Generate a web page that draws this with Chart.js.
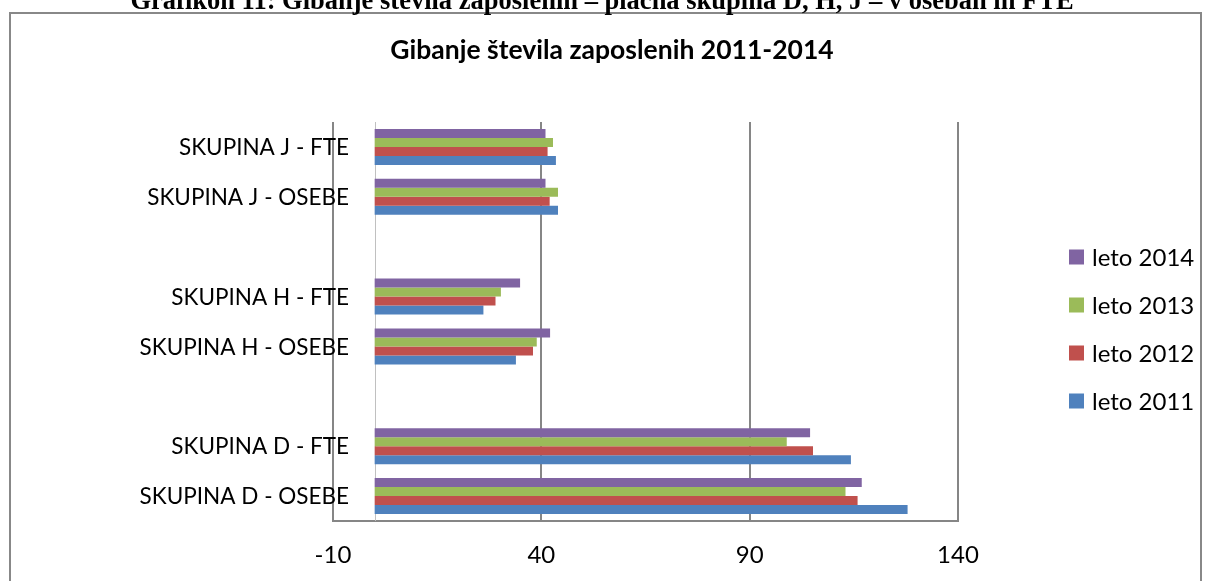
<!DOCTYPE html>
<html>
<head>
<meta charset="utf-8">
<script src="https://cdn.jsdelivr.net/npm/chart.js@4/dist/chart.umd.min.js"></script>
<style>
    body { margin: 0; background: #fff; }
    #wrap { width: 1208px; height: 581px; position: relative; }
</style>
</head>
<body>
<div id="wrap"><canvas id="zaposleniChart"></canvas></div>
<script>
// categories, top to bottom as drawn ('' = empty spacer rows)
const categories = ['SKUPINA J - FTE', 'SKUPINA J - OSEBE', '', 'SKUPINA H - FTE', 'SKUPINA H - OSEBE', '', 'SKUPINA D - FTE', 'SKUPINA D - OSEBE'];
const leto2014 = [41, 41, null, 34.9, 42.1, null, 104.5, 116.9];
const leto2013 = [42.8, 44, null, 30.3, 38.9, null, 98.9, 113];
const leto2012 = [41.5, 42, null, 29, 38, null, 105.2, 115.9];
const leto2011 = [43.5, 44, null, 26.1, 33.9, null, 114.3, 127.9];
const xTicks = [-10, 40, 90, 140];
const seriesNames = ['leto 2014', 'leto 2013', 'leto 2012', 'leto 2011'];
const seriesColors = ['#8064A2', '#9BBB59', '#C0504D', '#4F81BD'];

const captionText = 'Grafikon 11: Gibanje števila zaposlenih – plačna skupina D, H, J – v osebah in FTE';
const titleText = 'Gibanje števila zaposlenih 2011-2014';
const uiFont = 'Lato, "Open Sans", sans-serif';

const decorPlugin = {
    id: 'decor',
    beforeDatasetsDraw(chart) {
        const ctx = chart.ctx;
        const xs = chart.scales.x;
        const area = chart.chartArea;
        const x0 = Math.round(xs.getPixelForValue(0)) + 0.5;
        ctx.save();
        ctx.strokeStyle = '#c0c0c0';
        ctx.lineWidth = 1;
        ctx.beginPath();
        ctx.moveTo(x0, area.top);
        ctx.lineTo(x0, area.bottom);
        ctx.stroke();
        ctx.restore();
    },
    afterDraw(chart) {
        const ctx = chart.ctx;
        const ys = chart.scales.y;
        ctx.save();
        // category labels, placed next to the zero line like the original
        ctx.fillStyle = '#000';
        ctx.font = '22.5px ' + uiFont;
        ctx.textAlign = 'right';
        ctx.textBaseline = 'middle';
        categories.forEach((name, i) => {
            if (name) ctx.fillText(name, 349, ys.getPixelForValue(i) + 1);
        });
        // outer frame
        ctx.strokeStyle = '#888888';
        ctx.lineWidth = 2;
        ctx.strokeRect(10, 13, 1191, 700);
        // caption above the frame (cut off by the page edge)
        ctx.font = 'bold 26.5px "Liberation Serif", serif';
        ctx.textAlign = 'center';
        ctx.textBaseline = 'alphabetic';
        ctx.fillText(captionText, 602, 9);
        // chart title
        ctx.font = 'bold 26.5px ' + uiFont;
        ctx.textBaseline = 'middle';
        ctx.fillText(titleText, 612, 50);
        // legend
        ctx.font = '24px ' + uiFont;
        ctx.textAlign = 'left';
        const rows = [257, 305, 353, 401];
        seriesNames.forEach((name, i) => {
            ctx.fillStyle = seriesColors[i];
            ctx.fillRect(1069, rows[i] - 7.5, 15, 15);
            ctx.fillStyle = '#000';
            ctx.fillText(name, 1092, rows[i] + 1);
        });
        ctx.restore();
    }
};

const ctx = document.getElementById('zaposleniChart');
new Chart(ctx, {
    type: 'bar',
    data: {
        labels: categories,
        datasets: [
            { label: seriesNames[0], data: leto2014, backgroundColor: seriesColors[0] },
            { label: seriesNames[1], data: leto2013, backgroundColor: seriesColors[1] },
            { label: seriesNames[2], data: leto2012, backgroundColor: seriesColors[2] },
            { label: seriesNames[3], data: leto2011, backgroundColor: seriesColors[3] }
        ]
    },
    options: {
        indexAxis: 'y',
        responsive: true,
        maintainAspectRatio: false,
        animation: false,
        categoryPercentage: 0.72,
        barPercentage: 1,
        layout: {
            padding: { top: 122, right: 250, left: 0, bottom: 0 }
        },
        scales: {
            x: {
                min: xTicks[0],
                max: xTicks[xTicks.length - 1],
                ticks: {
                    stepSize: 50,
                    padding: 20,
                    color: '#000',
                    font: { family: uiFont, size: 24 }
                },
                grid: {
                    color: '#868686',
                    lineWidth: 2,
                    drawTicks: false
                },
                border: { display: true, color: '#868686', width: 2 },
                afterFit(scale) { scale.height = 60; }
            },
            y: {
                ticks: { display: false },
                grid: { display: false, drawTicks: false },
                border: { display: false },
                afterFit(scale) { scale.width = 333; }
            }
        },
        plugins: {
            legend: { display: false },
            title: { display: false },
            tooltip: { enabled: false }
        }
    },
    plugins: [decorPlugin]
});
</script>
</body>
</html>
